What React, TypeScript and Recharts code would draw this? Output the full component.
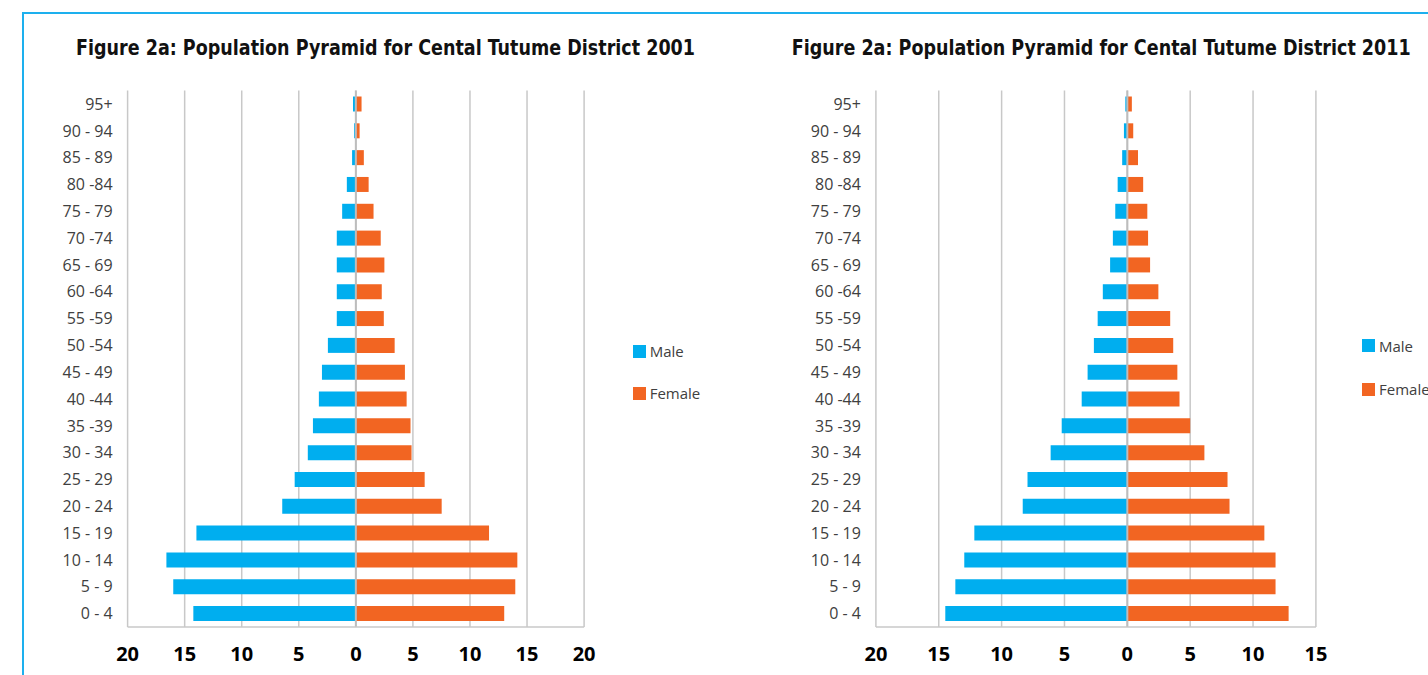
import React from 'react';
import { BarChart, Bar, XAxis, YAxis, CartesianGrid, Legend, ReferenceLine } from 'recharts';

// age groups, listed top to bottom as they appear in the pyramid
const ageGroups = [
  '95+', '90 - 94', '85 - 89', '80 -84', '75 - 79', '70 -74', '65 - 69', '60 -64', '55 -59', '50 -54',
  '45 - 49', '40 -44', '35 -39', '30 - 34', '25 - 29', '20 - 24', '15 - 19', '10 - 14', '5 - 9', '0 - 4',
];

// percent of population per age group
const male2001 = [0.25, 0.15, 0.33, 0.79, 1.2, 1.67, 1.67, 1.67, 1.67, 2.45, 2.97, 3.24, 3.76, 4.21, 5.36, 6.45, 13.97, 16.6, 16.0, 14.24];
const female2001 = [0.5, 0.33, 0.7, 1.12, 1.55, 2.18, 2.5, 2.27, 2.45, 3.4, 4.3, 4.45, 4.79, 4.88, 6.03, 7.52, 11.67, 14.15, 13.97, 13.0];
const male2011 = [0.16, 0.27, 0.41, 0.77, 0.96, 1.15, 1.37, 1.95, 2.36, 2.66, 3.16, 3.63, 5.22, 6.1, 7.94, 8.32, 12.17, 12.97, 13.68, 14.48];
const female2011 = [0.36, 0.47, 0.85, 1.26, 1.59, 1.65, 1.81, 2.47, 3.41, 3.65, 3.98, 4.15, 5.0, 6.13, 7.97, 8.13, 10.9, 11.79, 11.79, 12.83];

const ticks2001 = [-20, -15, -10, -5, 0, 5, 10, 15, 20];
const ticks2011 = [-20, -15, -10, -5, 0, 5, 10, 15];

const seriesNames = ['Male', 'Female'];

const title2001 = 'Figure 2a: Population Pyramid for Cental Tutume District 2001';
const title2011 = 'Figure 2a: Population Pyramid for Cental Tutume District 2011';

const MALE_COLOR = '#00AEEF';
const FEMALE_COLOR = '#F26522';
const GRID_COLOR = '#c8c8c8';
const FONT = '"Open Sans", "DejaVu Sans", sans-serif';
const TITLE_FONT = '"Liberation Sans Narrow", "DejaVu Sans Condensed", "Open Sans", sans-serif';

const buildData = (male: number[], female: number[]) =>
  ageGroups.map((age, i) => ({ age, male: -male[i], female: female[i] }));

const makeLegend = (rowHeight: number) => (props: any) => {
  const items = [...(props.payload || [])].sort(
    (a: any, b: any) => seriesNames.indexOf(a.value) - seriesNames.indexOf(b.value),
  );
  return (
    <div>
      {items.map((entry: any) => (
        <div key={entry.value} style={{ height: rowHeight, display: 'flex', alignItems: 'center', whiteSpace: 'nowrap' }}>
          <span style={{ width: 13, height: 13, background: entry.color, marginRight: 4, flex: 'none' }} />
          <span style={{ fontSize: 15, color: '#404040', fontFamily: FONT }}>{entry.value}</span>
        </div>
      ))}
    </div>
  );
};

interface PyramidProps {
  male: number[];
  female: number[];
  ticks: number[];
  left: number;
  width: number;
  marginLeft: number;
  marginRight: number;
  legendLeft: number;
  legendTop: number;
  legendRow: number;
}

const Pyramid: React.FC<PyramidProps> = ({ male, female, ticks, left, width, marginLeft, marginRight, legendLeft, legendTop, legendRow }) => {
  const data = buildData(male, female);
  return (
    <div style={{ position: 'absolute', left, top: 0 }}>
      <BarChart
        width={width}
        height={675}
        data={data}
        layout="vertical"
        stackOffset="sign"
        barCategoryGap="22%"
        margin={{ top: 90.6, right: marginRight, bottom: 8, left: marginLeft }}
      >
        <CartesianGrid horizontal={false} stroke={GRID_COLOR} strokeWidth={1.5} />
        <XAxis
          type="number"
          domain={[ticks[0], ticks[ticks.length - 1]]}
          ticks={ticks}
          interval={0}
          allowDataOverflow
          tickFormatter={(v) => String(Math.abs(v))}
          axisLine={{ stroke: GRID_COLOR, strokeWidth: 1.5 }}
          tickLine={false}
          tickSize={6}
          tickMargin={14}
          height={40}
          tick={{ fontSize: 20, fontWeight: 700, fill: '#000', fontFamily: FONT }}
        />
        <YAxis
          type="category"
          dataKey="age"
          width={110}
          interval={0}
          axisLine={false}
          tickLine={false}
          tickSize={6}
          tickMargin={9}
          tick={{ fontSize: 16, fill: '#404040', fontFamily: FONT }}
        />
        <Legend
          layout="vertical"
          align="right"
          verticalAlign="middle"
          wrapperStyle={{ left: legendLeft, top: legendTop, width: 100 }}
          content={makeLegend(legendRow)}
        />
        <Bar dataKey="male" name="Male" stackId="p" fill={MALE_COLOR} isAnimationActive={false} />
        <Bar dataKey="female" name="Female" stackId="p" fill={FEMALE_COLOR} isAnimationActive={false} />
        <ReferenceLine x={0} stroke="#bdbdbd" strokeWidth={2} />
      </BarChart>
    </div>
  );
};

export default function App() {
  return (
    <div style={{ position: 'absolute', left: 0, top: 0, width: 1428, height: 675, overflow: 'hidden', background: '#fff' }}>
      <svg width={1428} height={675} style={{ position: 'absolute', left: 0, top: 0 }}>
        <path d="M 23 675 V 13 H 1428" fill="none" stroke="#1DB0EE" strokeWidth={2} />
        <text x={76} y={55} textLength={619} lengthAdjust="spacingAndGlyphs" fontSize={22} fontWeight={700} fontFamily={TITLE_FONT} fill="#111">
          {title2001}
        </text>
        <text x={791.7} y={55} textLength={619} lengthAdjust="spacingAndGlyphs" fontSize={22} fontWeight={700} fontFamily={TITLE_FONT} fill="#111">
          {title2011}
        </text>
      </svg>
      <Pyramid
        male={male2001}
        female={female2001}
        ticks={ticks2001}
        left={0}
        width={720}
        marginLeft={17.6}
        marginRight={35.9}
        legendLeft={632.7}
        legendTop={330}
        legendRow={42}
      />
      <Pyramid
        male={male2011}
        female={female2011}
        ticks={ticks2011}
        left={740}
        width={700}
        marginLeft={25.9}
        marginRight={24.1}
        legendLeft={622}
        legendTop={324}
        legendRow={43.4}
      />
    </div>
  );
}
